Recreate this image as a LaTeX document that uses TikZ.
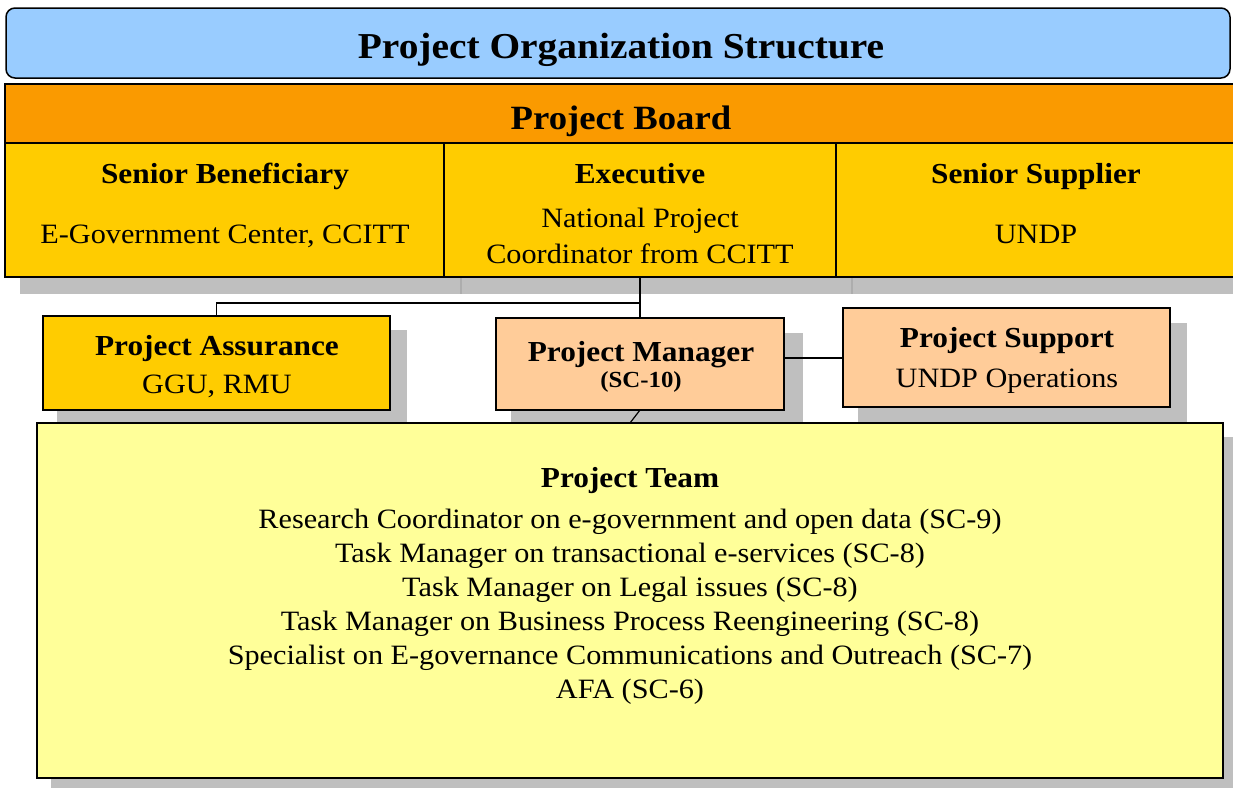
\documentclass[tikz,border=0pt]{standalone}
\usepackage{fontspec}
\setmainfont[FakeStretch=1.08]{Liberation Serif}
\definecolor{titleblue}{HTML}{99CCFF}
\definecolor{boardorange}{HTML}{FA9A00}
\definecolor{rowyellow}{HTML}{FFCC00}
\definecolor{peach}{HTML}{FFCC99}
\definecolor{paleyellow}{HTML}{FFFF99}
\definecolor{shadowgray}{HTML}{BFBFBF}
\definecolor{seamgray}{HTML}{ADADAD}
\begin{document}
\begin{tikzpicture}[x=1pt,y=-1pt,
  box/.style={draw=black, line width=1.5pt, inner sep=0pt, outer sep=0pt},
  shade/.style={fill=shadowgray, draw=none},
  link/.style={draw=black, line width=1.2pt},
  lbl/.style={inner sep=0pt, align=center, anchor=base},
  ttl/.style={lbl, font=\fontsize{36.5}{44}\bfseries\selectfont},
  brd/.style={lbl, font=\fontsize{34}{42}\bfseries\selectfont},
  hd/.style={lbl, font=\fontsize{29}{34}\bfseries\selectfont},
  tx/.style={lbl, font=\fontsize{28}{34}\selectfont},
  sm/.style={lbl, font=\fontsize{23}{28}\bfseries\selectfont}]
\clip (0,0) rectangle (1233,787);
\fill[white] (0,0) rectangle (1233,787);

% shadows
\fill[shade] (20,143) rectangle (1250,294);
\draw[seamgray, line width=1.5pt] (461,277) -- (461,294) (852,277) -- (852,294);
\fill[shade] (57,330) rectangle (407,424);
\fill[shade] (511,333) rectangle (803,424);
\fill[shade] (858,323) rectangle (1187,424);
\fill[shade] (51,437) rectangle (1240,795);

% boxes
\node[box, fill=titleblue, rounded corners=9pt, minimum width=1224, minimum height=70] (title) at (618,43) {};
\node[box, fill=boardorange, minimum width=1245, minimum height=59] (board) at (627.5,113.5) {};
\node[box, fill=rowyellow, minimum width=439, minimum height=134] (sb) at (224.5,210) {};
\node[box, fill=rowyellow, minimum width=392, minimum height=134] (ex) at (640,210) {};
\node[box, fill=rowyellow, minimum width=414, minimum height=134] (ss) at (1043,210) {};

% connectors
\coordinate (junc) at (640,303);
\draw[link] (ex.south) -- (junc);
\draw[link] (junc) -| (216.5,316);

\node[box, fill=rowyellow, minimum width=347, minimum height=94] (pa) at (216.5,363) {};
\node[box, fill=peach, minimum width=288, minimum height=92] (pm) at (640,364) {};
\node[box, fill=peach, minimum width=327, minimum height=99] (ps) at (1006.5,357.5) {};

\draw[link] (junc) -- (pm.north);
\draw[link] (pm.east |- 0,358) -- (ps.west |- 0,358);
\coordinate (teamtop) at (630,423);
\draw[link] (pm.south) -- (teamtop);

\node[box, fill=paleyellow, minimum width=1186, minimum height=355] (team) at (630,600.5) {};

% texts
\node[ttl] (t1) at (621,58) {Project Organization Structure};
\node[brd] (t2) at (621,129) {Project Board};
\node[hd] (sbh) at (225,183) {Senior Beneficiary};
\node[tx] (sbt) at (225,243) {E-Government Center, CCITT};
\node[hd] (exh) at (640,183) {Executive};
\node[tx] (ext1) at (640,227) {National Project};
\node[tx] (ext2) at (640,263) {Coordinator from CCITT};
\node[hd] (ssh) at (1036,183) {Senior Supplier};
\node[tx] (sst) at (1036,243) {UNDP};
\node[hd] (pah) at (217,355) {Project Assurance};
\node[tx] (pat) at (217,393) {GGU, RMU};
\node[hd] (pmh) at (641,361) {Project Manager};
\node[sm] (pmt) at (641,387) {(SC-10)};
\node[hd] (psh) at (1007,347) {Project Support};
\node[tx] (pst) at (1007,387) {UNDP Operations};
\node[hd] (tmh) at (630,487) {Project Team};
\node[tx] (tm1) at (630,528) {Research Coordinator on e-government and open data (SC-9)};
\node[tx] (tm2) at (630,562) {Task Manager on transactional e-services (SC-8)};
\node[tx] (tm3) at (630,596) {Task Manager on Legal issues (SC-8)};
\node[tx] (tm4) at (630,630) {Task Manager on Business Process Reengineering (SC-8)};
\node[tx] (tm5) at (630,664) {Specialist on E-governance Communications and Outreach (SC-7)};
\node[tx] (tm6) at (630,698) {AFA (SC-6)};
\end{tikzpicture}
\end{document}
